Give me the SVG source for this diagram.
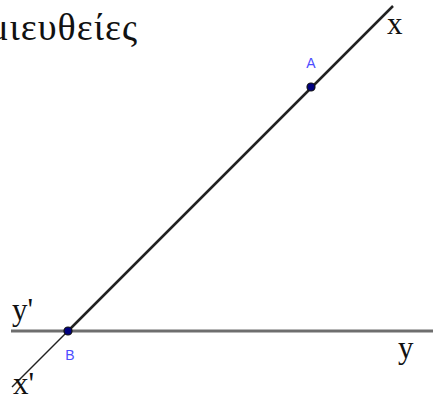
<svg xmlns="http://www.w3.org/2000/svg" width="433" height="401" viewBox="0 0 433 401">
<style>
.lbl{font-family:"Liberation Serif","DejaVu Serif",serif;fill:#111}
.pt{font-family:"Liberation Sans","DejaVu Sans",sans-serif;fill:#4d4dff;font-size:14px}
.dot{fill:#00007f;stroke:#111;stroke-width:1.2}
</style>
<rect width="433" height="401" fill="#fff"/>
<text class="lbl" x="138" y="40" font-size="38" letter-spacing="1" text-anchor="end">Ημιευθείες</text>
<g id="connectors">
<line x1="11" y1="331" x2="433" y2="331" stroke="#6e6e6e" stroke-width="3"/>
<line x1="68" y1="331" x2="12" y2="387" stroke="#222" stroke-width="1.5"/>
<line x1="68" y1="331" x2="393" y2="6" stroke="#222" stroke-width="2.5"/>
</g>
<g id="nodeA">
<circle class="dot" cx="311" cy="87" r="4"/>
<text class="pt" x="311" y="68" text-anchor="middle">A</text>
</g>
<g id="nodeB">
<circle class="dot" cx="68" cy="331" r="4"/>
<text class="pt" x="70" y="360" text-anchor="middle">B</text>
</g>
<text class="lbl" x="387" y="34" font-size="31">x</text>
<text class="lbl" x="12" y="320" font-size="31">y'</text>
<text class="lbl" x="398" y="358" font-size="31">y</text>
<text class="lbl" x="13" y="394" font-size="31">x'</text>
</svg>
